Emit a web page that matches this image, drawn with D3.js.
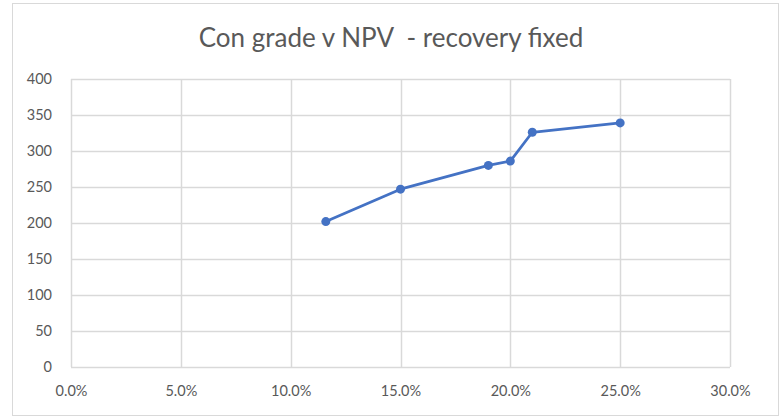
<!DOCTYPE html>
<html><head><meta charset="utf-8">
<script src="https://cdn.jsdelivr.net/npm/d3@7"></script>
<style>body{margin:0;background:#fff}svg{display:block}</style>
</head><body>
<svg id="c" width="781" height="418"></svg>
<script>
const title = "Con grade v NPV  - recovery fixed";
const grade = [0.116, 0.15, 0.19, 0.20, 0.21, 0.25];
const npv = [202, 247, 280, 286, 326, 339];
const xTicks = [0, 0.05, 0.10, 0.15, 0.20, 0.25, 0.30];
const yTicks = [0, 50, 100, 150, 200, 250, 300, 350, 400];

const svg = d3.select("#c");
const font = "Lato, 'Open Sans', sans-serif";
svg.append("rect").attr("x", 12.5).attr("y", 3.5).attr("width", 766).attr("height", 412)
  .attr("fill", "#fff").attr("stroke", "#d9d9d9").attr("stroke-width", 1);

const x = d3.scaleLinear().domain([0, 0.30]).range([71, 730]);
const y = d3.scaleLinear().domain([0, 400]).range([367, 79]);

const grid = svg.append("g");
grid.selectAll(".v").data(xTicks).join("line")
  .attr("x1", d => Math.round(x(d)) + 0.5).attr("x2", d => Math.round(x(d)) + 0.5)
  .attr("y1", y(400)).attr("y2", y(0)).attr("stroke", "#d9d9d9").attr("stroke-width", 1.5);
grid.selectAll(".h").data(yTicks).join("line")
  .attr("y1", d => Math.round(y(d)) + 0.5).attr("y2", d => Math.round(y(d)) + 0.5)
  .attr("x1", x(0)).attr("x2", x(0.30)).attr("stroke", "#d9d9d9").attr("stroke-width", 1.5);

const xAxis = d3.axisBottom(x).tickValues(xTicks).tickFormat(d3.format(".1%")).tickSize(0).tickPadding(19);
const gx = svg.append("g").attr("transform", `translate(0,${y(0)})`).call(xAxis);
const yAxis = d3.axisLeft(y).tickValues(yTicks).tickSize(0).tickPadding(19);
const gy = svg.append("g").attr("transform", `translate(${x(0)},0)`).call(yAxis);
[gx, gy].forEach(g => {
  g.select(".domain").remove();
  g.selectAll("text").attr("fill", "#595959").style("font-family", font).style("font-size", "14.5px");
});

svg.append("text").attr("x", 391).attr("y", 47).attr("text-anchor", "middle")
  .attr("fill", "#595959").style("font-family", font).style("font-size", "26px")
  .style("white-space", "pre").text(title);

const pts = grade.map((g, i) => [g, npv[i]]);
const line = d3.line().x(d => x(d[0])).y(d => y(d[1]));
svg.append("path").datum(pts).attr("d", line).attr("fill", "none")
  .attr("stroke", "#4472C4").attr("stroke-width", 2.75).attr("stroke-linejoin", "round");
svg.selectAll(".pt").data(pts).join("circle")
  .attr("cx", d => x(d[0])).attr("cy", d => y(d[1])).attr("r", 4.5).attr("fill", "#4472C4");
</script>
</body></html>
